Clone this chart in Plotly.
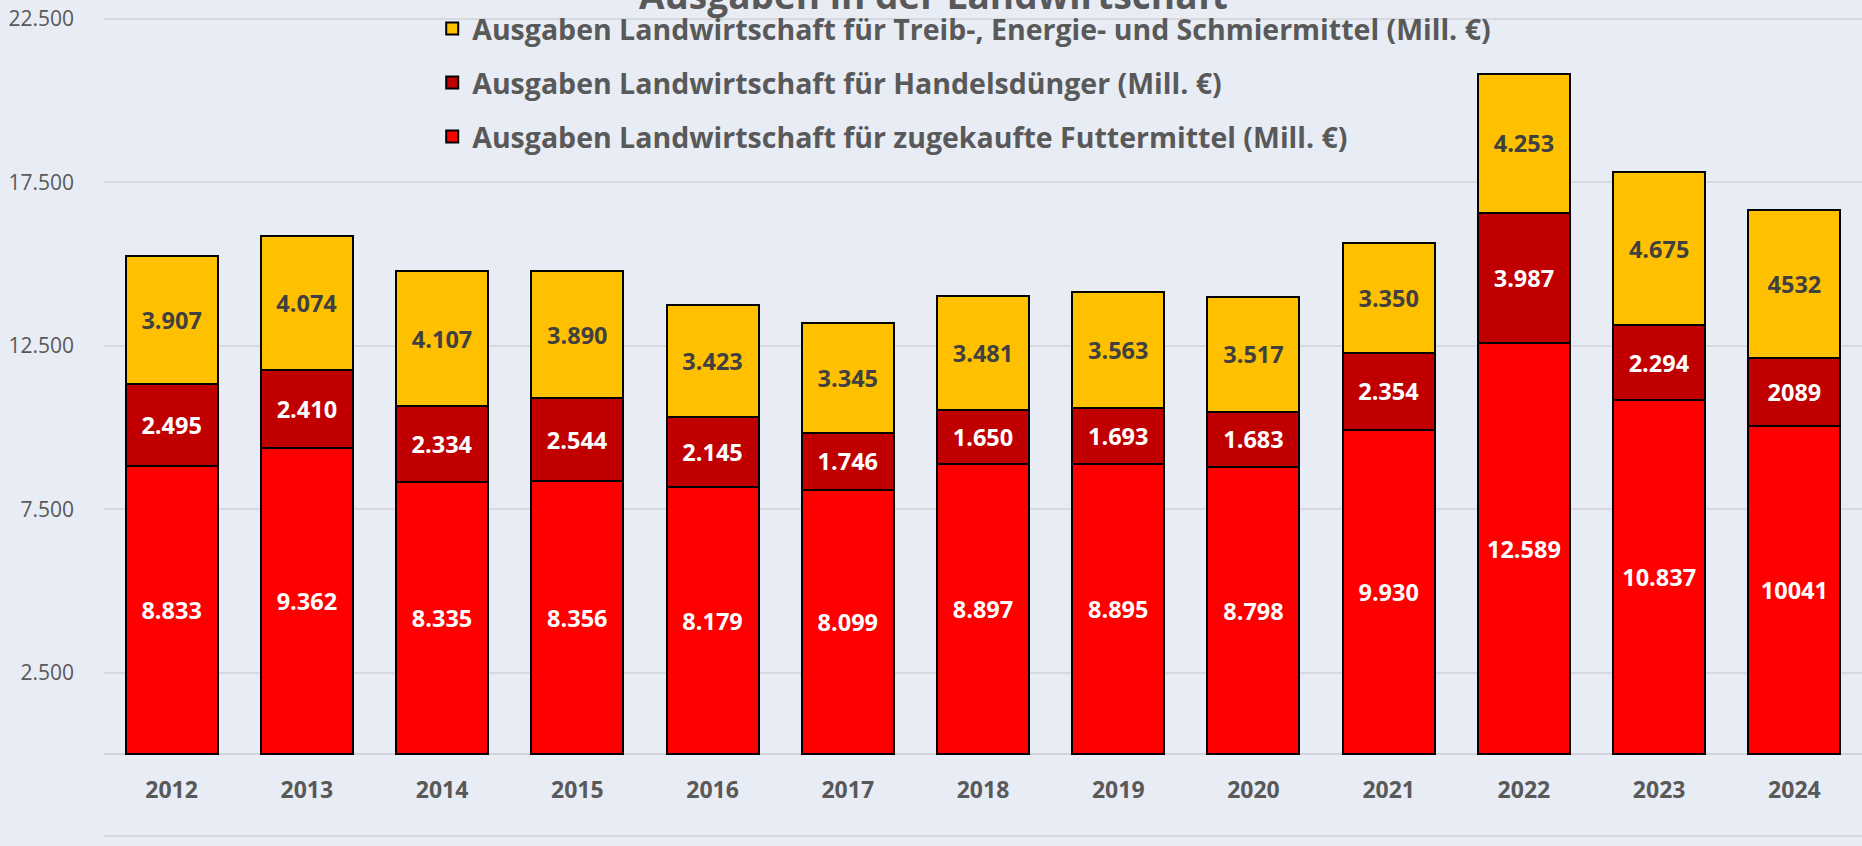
import plotly.graph_objects as go

years = ["2012", "2013", "2014", "2015", "2016", "2017", "2018", "2019", "2020", "2021", "2022", "2023", "2024"]
futtermittel = [8833, 9362, 8335, 8356, 8179, 8099, 8897, 8895, 8798, 9930, 12589, 10837, 10041]
handelsduenger = [2495, 2410, 2334, 2544, 2145, 1746, 1650, 1693, 1683, 2354, 3987, 2294, 2089]
treibstoffe = [3907, 4074, 4107, 3890, 3423, 3345, 3481, 3563, 3517, 3350, 4253, 4675, 4532]

ytick_vals = [-2500, 2500, 7500, 12500, 17500, 22500]
ytick_text = ["-2.500", "2.500", "7.500", "12.500", "17.500", "22.500"]

names = [
    "Ausgaben Landwirtschaft für zugekaufte Futtermittel (Mill. €)",
    "Ausgaben Landwirtschaft für Handelsdünger (Mill. €)",
    "Ausgaben Landwirtschaft für Treib-, Energie- und Schmiermittel (Mill. €)",
]
colors = ["#FF0000", "#C00000", "#FFC000"]
text_colors = ["#FFFFFF", "#FFFFFF", "#404040"]
legend_ranks = [3, 2, 1]


def fmt(values):
    # source shows thousands separator except for the last (2024) value
    out = [f"{v:,}".replace(",", ".") for v in values[:-1]]
    out.append(str(values[-1]))
    return out


fig = go.Figure()
for i, (vals, name) in enumerate(zip([futtermittel, handelsduenger, treibstoffe], names)):
    fig.add_trace(go.Bar(
        x=years, y=vals, name=name,
        marker=dict(color=colors[i], line=dict(color="#000000", width=2)),
        text=fmt(vals), textposition="inside", insidetextanchor="middle",
        textangle=0,
        textfont=dict(family="Open Sans", size=23.5, color=text_colors[i], weight="bold"),
        legendgroup=f"g{i}", legendrank=legend_ranks[i],
        hoverinfo="x+y+name",
    ))

bg = "#E8ECF5"
ymin, ymax = -2806, 23081
fig.update_layout(
    barmode="stack",
    bargap=0.32,
    width=1862, height=846,
    margin=dict(l=104, r=0, t=0, b=0, autoexpand=False),
    paper_bgcolor=bg, plot_bgcolor=bg,
    showlegend=True,
    legend=dict(
        x=0.1867, xanchor="left", y=0.996, yanchor="top",
        traceorder="grouped", tracegroupgap=14,
        bgcolor="rgba(0,0,0,0)",
        font=dict(family="Open Sans", size=28.5, color="#595959", weight="bold"),
    ),
    annotations=[dict(
        text="<b>Ausgaben in der Landwirtschaft</b>",
        x=(933 - 104) / 1758, xref="paper", y=1.0 + 5 / 846, yref="paper",
        xanchor="center", yanchor="middle", showarrow=False,
        font=dict(family="Open Sans", size=37, color="#595959"),
    )],
)
fig.update_yaxes(
    range=[ymin, ymax], tickvals=ytick_vals, ticktext=ytick_text,
    showgrid=True, gridcolor="#D8D9DE", gridwidth=2,
    zeroline=True, zerolinecolor="#D2D3D8", zerolinewidth=2,
    ticks="", ticklabelstandoff=29, automargin=False,
    tickfont=dict(family="Open Sans", size=21, color="#595959"),
    showline=False,
)
fig.update_xaxes(
    anchor="free", position=(0 - ymin) / (ymax - ymin), automargin=False,
    showgrid=False, showline=False, ticks="", ticklabelstandoff=20,
    tickfont=dict(family="Open Sans", size=23, color="#595959", weight="bold"),
)

fig.write_html(
    "out.html",
    config={"displayModeBar": False},
    post_script="document.body.style.margin='0';document.body.style.background='" + bg + "';",
)
